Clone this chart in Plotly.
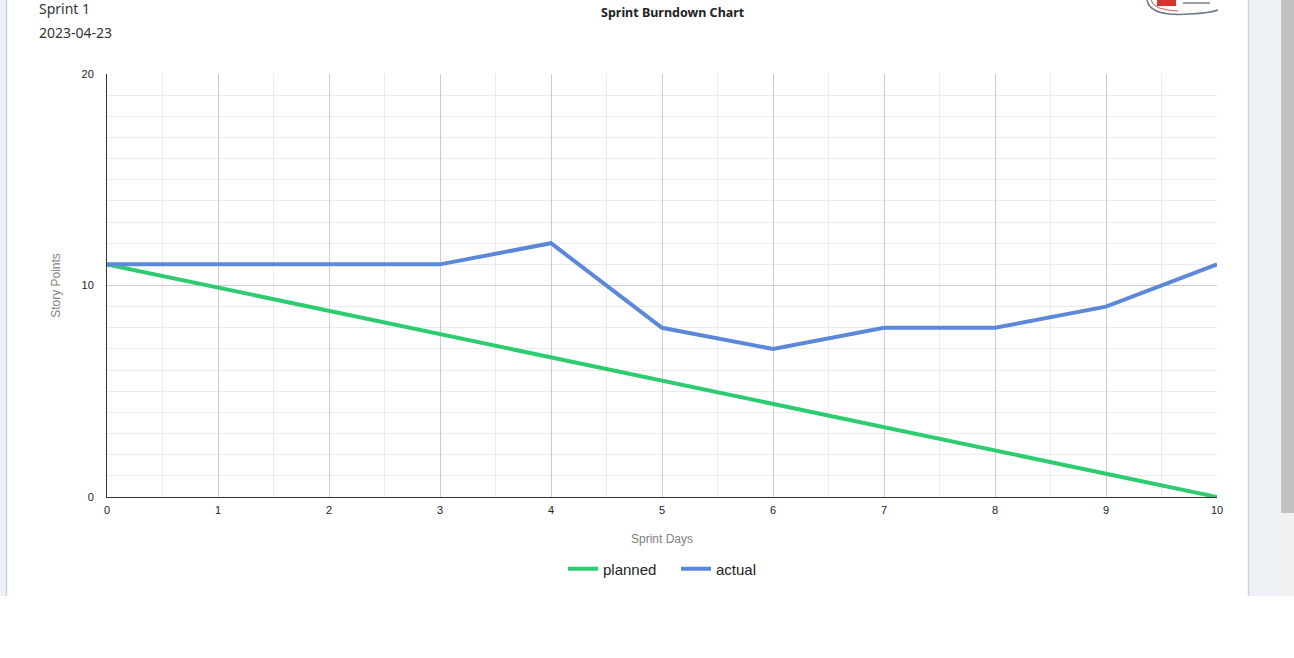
import plotly.graph_objects as go

days = [0, 1, 2, 3, 4, 5, 6, 7, 8, 9, 10]
planned = [11, 9.9, 8.8, 7.7, 6.6, 5.5, 4.4, 3.3, 2.2, 1.1, 0]
actual = [11, 11, 11, 11, 12, 8, 7, 8, 8, 9, 11]

W, H = 1294, 658
L, R, T, B = 107, 1217, 74, 497

def px(x):
    return (x - L) / (R - L)

def py(y):
    return (B - y) / (B - T)

fig = go.Figure()
fig.add_trace(go.Scatter(x=days, y=planned, mode="lines", name="planned",
                         line=dict(color="#2ecc71", width=4)))
fig.add_trace(go.Scatter(x=days, y=actual, mode="lines", name="actual",
                         line=dict(color="#5b88d8", width=4)))

shapes = []
# page frame
shapes.append(dict(type="rect", xref="paper", yref="paper", x0=px(0), x1=px(6), y0=py(596), y1=py(0),
                   fillcolor="#eef2f6", line=dict(width=0), layer="below"))
shapes.append(dict(type="line", xref="paper", yref="paper", x0=px(6.5), x1=px(6.5), y0=py(596), y1=py(0),
                   line=dict(color="#c9d5e2", width=1.5)))
shapes.append(dict(type="rect", xref="paper", yref="paper", x0=px(1248), x1=px(1281), y0=py(596), y1=py(0),
                   fillcolor="#eef2f6", line=dict(width=0), layer="below"))
shapes.append(dict(type="line", xref="paper", yref="paper", x0=px(1248.5), x1=px(1248.5), y0=py(596), y1=py(0),
                   line=dict(color="#c9d5e2", width=1.5)))
shapes.append(dict(type="rect", xref="paper", yref="paper", x0=px(1281), x1=px(1294), y0=py(596), y1=py(0),
                   fillcolor="#f1f1f1", line=dict(width=0), layer="below"))
shapes.append(dict(type="rect", xref="paper", yref="paper", x0=px(1281), x1=px(1294), y0=py(513), y1=py(0),
                   fillcolor="#c1c1c1", line=dict(width=0), layer="below"))
# logo (partially visible at top edge)
shapes.append(dict(type="path", xref="paper", yref="paper",
                   path=f"M {px(1147)} {py(0)} Q {px(1150)} {py(17)} {px(1190)} {py(14)} Q {px(1210)} {py(13)} {px(1218)} {py(10)}",
                   line=dict(color="#6b7885", width=1.5)))
shapes.append(dict(type="path", xref="paper", yref="paper",
                   path=f"M {px(1151)} {py(0)} Q {px(1153)} {py(10)} {px(1178)} {py(11)}",
                   line=dict(color="#d9534f", width=1)))
shapes.append(dict(type="rect", xref="paper", yref="paper", x0=px(1157), x1=px(1176), y0=py(6), y1=py(0),
                   fillcolor="#d9342b", line=dict(width=0)))
shapes.append(dict(type="rect", xref="paper", yref="paper", x0=px(1183), x1=px(1210), y0=py(4), y1=py(2),
                   fillcolor="#9aa0a8", line=dict(width=0)))

annotations = [
    dict(text="Sprint 1", xref="paper", yref="paper", x=px(37), y=py(9), xanchor="left", yanchor="middle",
         showarrow=False, font=dict(family="Noto Sans", size=14, color="#333")),
    dict(text="2023-04-23", xref="paper", yref="paper", x=px(37), y=py(32), xanchor="left", yanchor="middle",
         showarrow=False, font=dict(family="Noto Sans", size=14, color="#333")),
    dict(text="<b>Sprint Burndown Chart</b>", xref="paper", yref="paper", x=px(673), y=py(12),
         xanchor="center", yanchor="middle", showarrow=False,
         font=dict(family="Noto Sans", size=12.5, color="#222")),
]

fig.update_layout(
    width=W, height=H,
    margin=dict(l=L, r=W - R, t=T, b=H - B, pad=0),
    paper_bgcolor="white", plot_bgcolor="white",
    showlegend=True,
    legend=dict(orientation="h", x=px(563), xanchor="left", y=py(569), yanchor="middle",
                font=dict(family="Liberation Sans", size=15, color="#222"),
                entrywidth=68, entrywidthmode="pixels", itemwidth=30),
    shapes=shapes, annotations=annotations,
    font=dict(family="Liberation Sans"),
)
fig.update_xaxes(range=[0, 10], dtick=1, tick0=0, showgrid=True, gridcolor="#cccccc", gridwidth=1,
                 minor=dict(dtick=0.5, showgrid=True, gridcolor="#ebebeb"),
                 showline=True, linecolor="#333", linewidth=1, zeroline=False,
                 ticks="", ticklabelstandoff=3,
                 tickfont=dict(family="Liberation Sans", size=11, color="#222"),
                 title=dict(text="Sprint Days", standoff=19,
                            font=dict(family="Liberation Sans", size=12, color="#808080")))
fig.update_yaxes(range=[0, 20], dtick=10, tick0=0, showgrid=True, gridcolor="#cccccc", gridwidth=1,
                 minor=dict(dtick=1, showgrid=True, gridcolor="#ebebeb"),
                 showline=True, linecolor="#333", linewidth=1, zeroline=False,
                 ticks="", ticklabelstandoff=10,
                 tickfont=dict(family="Liberation Sans", size=11, color="#222"),
                 title=dict(text="Story Points", standoff=18,
                            font=dict(family="Liberation Sans", size=12, color="#8a7f7a")))

fig.write_html("out.html", config={"displayModeBar": False},
               post_script="document.body.style.margin='0';document.body.style.overflow='hidden';")
